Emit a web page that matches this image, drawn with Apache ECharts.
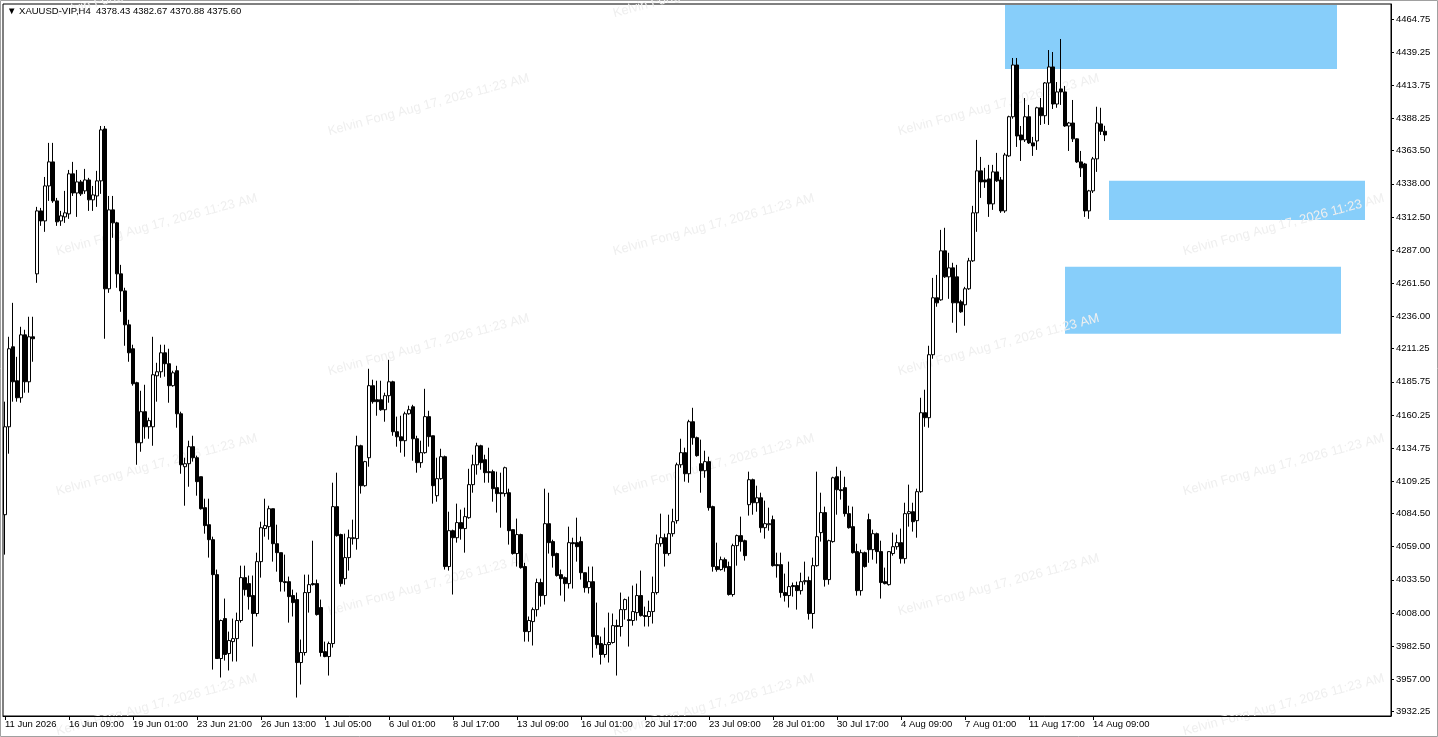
<!DOCTYPE html>
<html>
<head>
<meta charset="utf-8">
<script src="https://cdn.jsdelivr.net/npm/echarts@6.0.0/dist/echarts.min.js"></script>
<style>
html,body{margin:0;padding:0;background:#ffffff;}
#c{width:1438px;height:737px;}
</style>
</head>
<body>
<div id="c"></div>
<script>
// ---------------- data ----------------
const symbolName = 'XAUUSD-VIP,H4';
const watermarkText = 'Kelvin Fong Aug 17, 2026 11:23 AM';

// time-axis labels, one every 16 bars (H4)
const timeTickLabels = ['11 Jun 2026','16 Jun 09:00','19 Jun 01:00','23 Jun 21:00','26 Jun 13:00','1 Jul 05:00','6 Jul 01:00','8 Jul 17:00','13 Jul 09:00','16 Jul 01:00','20 Jul 17:00','23 Jul 09:00','28 Jul 01:00','30 Jul 17:00','4 Aug 09:00','7 Aug 01:00','11 Aug 17:00','14 Aug 09:00'];
const barsPerTimeLabel = 16;

// price-axis labels
const priceTickLabels = [4464.75,4439.25,4413.75,4388.25,4363.50,4338.00,4312.50,4287.00,4261.50,4236.00,4211.25,4185.75,4160.25,4134.75,4109.25,4084.50,4059.00,4033.50,4008.00,3982.50,3957.00,3932.25];
const priceMin = 3928.8;
const priceMax = 4476.3;

// candles: [open, close, low, high]
const candles = [
[4083.6,4151.2,4052.9,4170.5],[4151.2,4211.2,4130.5,4220.4],[4212.7,4185.8,4170.5,4246.5],[4186.6,4173.5,4170.5,4205.0],
[4173.5,4221.9,4169.7,4228.1],[4221.9,4185.8,4177.4,4225.8],[4185.8,4220.4,4177.4,4235.8],[4220.4,4218.9,4201.2,4235.8],
[4268.8,4317.2,4261.9,4320.3],[4317.2,4309.5,4305.7,4319.5],[4309.5,4336.4,4301.1,4343.3],[4336.4,4354.9,4324.9,4369.5],
[4354.9,4324.9,4323.4,4369.5],[4324.9,4308.8,4305.7,4327.2],[4309.5,4313.4,4305.7,4317.2],[4312.6,4315.7,4308.0,4332.6],
[4314.9,4345.7,4311.1,4348.7],[4345.7,4331.0,4328.7,4354.9],[4331.0,4339.5,4312.6,4348.7],[4339.5,4330.3,4328.7,4341.0],
[4332.6,4341.0,4330.3,4349.5],[4341.0,4325.7,4317.2,4342.6],[4325.7,4329.5,4317.2,4336.4],[4328.7,4340.3,4320.3,4348.0],
[4340.3,4379.5,4330.3,4382.5],[4380.2,4257.3,4218.9,4382.5],[4257.3,4318.0,4254.2,4328.7],[4318.0,4308.0,4296.5,4328.7],
[4308.0,4268.8,4258.1,4308.8],[4268.8,4255.7,4239.6,4275.7],[4255.7,4229.6,4213.5,4258.1],[4229.6,4208.1,4201.2,4233.5],
[4211.2,4184.3,4182.8,4214.3],[4185.1,4138.9,4122.0,4185.8],[4138.9,4162.8,4132.0,4178.9],[4162.8,4151.2,4142.0,4183.5],
[4151.2,4155.9,4142.0,4158.2],[4151.2,4191.2,4136.6,4220.4],[4190.4,4193.5,4170.5,4200.4],[4193.5,4208.1,4188.9,4214.3],
[4208.1,4199.7,4189.7,4214.3],[4199.7,4182.8,4169.7,4211.2],[4182.8,4192.7,4182.0,4194.3],[4194.3,4161.2,4150.5,4198.1],
[4161.2,4122.0,4115.1,4162.8],[4120.5,4122.8,4090.5,4127.4],[4122.8,4135.9,4105.1,4140.5],[4135.9,4127.4,4124.4,4144.3],
[4127.4,4109.0,4098.2,4129.0],[4112.8,4088.2,4087.5,4112.8],[4089.0,4075.2,4069.0,4095.9],[4075.9,4064.4,4050.6,4095.9],
[4064.4,4037.5,3964.5,4066.7],[4037.5,3973.0,3973.0,4041.4],[3973.0,4002.2,3958.4,4002.9],[4003.7,3976.1,3971.4,4019.1],
[3976.8,3986.8,3963.8,3993.7],[3986.0,3988.3,3970.7,4003.7],[3988.3,4002.2,3970.7,4008.3],[4002.2,4035.2,4000.6,4044.4],
[4035.2,4026.0,4021.4,4044.4],[4030.6,4020.6,4010.6,4036.8],[4021.4,4007.6,3982.2,4036.8],[4007.6,4047.5,4005.3,4054.4],
[4047.5,4073.6,4035.2,4078.2],[4072.9,4075.2,4066.7,4095.9],[4074.4,4088.2,4064.4,4090.5],[4088.2,4061.3,4047.5,4088.2],
[4061.3,4054.4,4039.8,4075.9],[4054.4,4032.1,4024.5,4054.4],[4032.1,4031.4,4024.5,4052.9],[4032.1,4020.6,4000.6,4036.0],
[4021.4,4016.0,4005.3,4026.0],[4018.3,3969.9,3943.0,4023.7],[3969.9,3977.6,3953.0,3987.6],[3977.6,4023.7,3975.3,4037.5],
[4023.7,4029.8,4008.3,4037.5],[4030.6,4029.8,4029.1,4063.6],[4030.6,4006.8,4006.0,4033.7],[4012.2,3977.6,3974.5,4018.3],
[3978.3,3974.5,3974.0,3986.0],[3974.5,3984.5,3959.9,3986.0],[3984.5,4089.8,3981.4,4108.2],[4089.8,4067.5,4066.7,4115.9],
[4068.3,4030.6,4028.3,4069.0],[4034.4,4050.6,4029.8,4069.0],[4050.6,4065.9,4040.6,4072.1],[4065.2,4065.9,4060.6,4079.8],
[4065.2,4136.6,4056.7,4144.3],[4136.6,4105.9,4099.8,4137.4],[4105.9,4124.4,4105.1,4125.0],[4127.4,4182.8,4120.5,4195.8],
[4182.8,4170.5,4169.0,4187.4],[4172.0,4170.5,4159.7,4186.6],[4172.0,4164.3,4163.5,4186.6],[4164.3,4175.1,4155.1,4177.4],
[4175.1,4185.8,4169.7,4202.7],[4185.8,4147.4,4144.3,4186.6],[4147.4,4143.5,4135.9,4159.0],[4143.5,4140.5,4131.3,4159.7],
[4140.5,4161.2,4128.2,4162.8],[4161.2,4164.3,4160.5,4167.4],[4166.6,4142.0,4125.1,4168.1],[4142.0,4123.6,4115.9,4144.3],
[4123.6,4131.3,4119.7,4140.5],[4131.3,4159.0,4130.5,4180.4],[4159.0,4143.6,4135.9,4163.5],[4144.3,4105.9,4092.1,4144.3],
[4098.2,4111.3,4093.6,4127.4],[4111.3,4128.2,4110.5,4134.3],[4128.2,4043.7,4041.4,4129.0],[4043.7,4071.3,4040.6,4085.9],
[4071.3,4065.9,4022.2,4072.1],[4065.9,4077.5,4062.1,4092.1],[4077.5,4072.9,4064.4,4087.5],[4072.9,4082.1,4054.4,4089.0],
[4081.3,4106.7,4080.5,4118.9],[4106.7,4122.0,4100.5,4129.7],[4122.0,4136.6,4114.4,4138.9],[4136.6,4123.6,4118.2,4137.4],
[4125.9,4115.9,4108.2,4129.7],[4116.7,4115.9,4108.2,4135.1],[4116.7,4103.6,4093.6,4118.2],[4104.4,4099.8,4085.2,4116.7],
[4100.5,4099.8,4073.6,4115.9],[4099.8,4119.7,4097.5,4120.5],[4100.5,4071.3,4060.6,4103.6],[4072.1,4053.7,4052.9,4072.1],
[4053.7,4068.3,4043.7,4080.6],[4068.3,4042.9,4042.1,4069.0],[4043.7,3993.7,3986.0,4046.6],[3993.7,4002.2,3986.0,4005.3],
[4001.4,4010.6,3983.0,4012.2],[4010.6,4031.4,4005.3,4034.4],[4031.4,4021.4,4012.9,4034.4],[4021.4,4076.7,4014.5,4103.6],
[4076.7,4062.1,4053.7,4100.5],[4062.9,4052.1,4042.9,4064.4],[4053.7,4036.8,4036.0,4054.4],[4037.5,4034.4,4021.4,4041.4],
[4035.2,4030.6,4016.8,4036.0],[4030.6,4062.1,4026.8,4074.4],[4062.1,4061.3,4026.8,4065.9],[4062.1,4059.0,4047.5,4081.3],
[4062.9,4039.0,4033.7,4066.7],[4039.0,4027.5,4023.7,4039.0],[4027.5,4032.1,4023.0,4043.7],[4032.1,3989.9,3973.7,4043.7],
[3990.6,3983.7,3980.7,4016.0],[3984.5,3976.1,3968.4,3989.9],[3976.1,3983.7,3973.7,3996.8],[3983.7,3985.3,3969.9,4008.3],
[3985.3,3998.3,3984.5,4007.6],[3998.3,3997.6,3959.9,4002.9],[3997.6,4010.6,3989.9,4023.7],[4010.6,4018.3,4002.9,4019.1],
[4002.9,4002.2,3982.2,4020.6],[4002.2,4009.1,3998.3,4029.1],[4008.3,4021.4,4002.2,4030.6],[4021.4,4006.0,4005.3,4040.6],
[4006.0,4005.3,3997.6,4012.9],[4005.3,4009.1,3997.6,4017.5],[4009.1,4023.7,3999.9,4036.0],[4023.7,4061.3,4022.2,4068.3],
[4061.3,4065.9,4059.0,4084.4],[4065.9,4053.7,4043.7,4069.0],[4053.7,4069.0,4052.1,4083.6],[4069.0,4078.2,4066.7,4088.2],
[4079.0,4122.0,4076.7,4123.6],[4122.0,4131.3,4119.7,4142.0],[4131.3,4115.1,4109.0,4135.1],[4115.1,4155.1,4108.2,4156.6],
[4155.1,4142.8,4137.4,4165.8],[4142.8,4129.0,4128.2,4143.6],[4122.8,4117.4,4100.5,4141.3],[4117.4,4124.4,4112.0,4132.8],
[4124.4,4089.0,4086.7,4128.2],[4089.8,4043.7,4039.8,4090.5],[4043.7,4041.4,4039.8,4062.1],[4041.4,4049.0,4040.6,4051.4],
[4049.0,4042.9,4039.8,4050.6],[4043.7,4022.2,4021.4,4047.5],[4022.2,4059.8,4020.6,4061.3],[4059.8,4067.5,4044.4,4068.3],
[4067.5,4062.9,4055.2,4082.1],[4063.6,4052.1,4048.3,4064.4],[4091.3,4110.5,4082.9,4116.7],[4110.5,4092.8,4083.6,4111.3],
[4092.8,4096.6,4085.9,4105.9],[4096.6,4073.6,4069.8,4100.5],[4073.6,4076.7,4065.2,4094.4],[4075.9,4076.7,4071.3,4089.0],
[4079.8,4044.4,4043.7,4082.9],[4045.2,4044.4,4035.2,4054.4],[4045.2,4023.7,4019.8,4054.4],[4023.7,4021.4,4016.8,4038.3],
[4021.4,4028.3,4012.2,4047.5],[4029.1,4028.3,4020.6,4031.4],[4029.1,4025.2,4010.6,4032.1],[4025.2,4032.1,4022.2,4039.0],
[4032.1,4032.9,4029.8,4047.5],[4032.9,4007.6,4002.9,4036.0],[4007.6,4044.4,3996.0,4050.6],[4044.4,4066.7,4043.7,4116.7],
[4069.8,4085.2,4062.9,4100.5],[4085.2,4033.7,4028.3,4089.8],[4033.7,4063.6,4029.8,4064.4],[4062.9,4112.0,4062.1,4112.8],
[4112.8,4102.8,4083.6,4120.5],[4102.8,4102.1,4095.2,4117.4],[4104.4,4084.4,4082.1,4112.8],[4084.4,4073.6,4072.9,4090.5],
[4074.4,4054.4,4053.7,4089.8],[4055.2,4025.2,4021.4,4061.3],[4025.2,4054.4,4021.4,4056.7],[4054.4,4043.7,4042.9,4055.2],
[4079.8,4056.7,4046.6,4084.4],[4056.7,4069.0,4049.0,4072.1],[4069.0,4055.2,4046.0,4069.8],[4055.2,4031.4,4019.1,4063.6],
[4032.1,4030.6,4030.0,4042.9],[4029.8,4055.2,4029.1,4055.5],[4053.7,4059.0,4052.1,4069.8],[4059.0,4062.1,4056.7,4068.3],
[4062.1,4049.8,4046.0,4072.9],[4049.8,4084.4,4046.0,4092.8],[4084.4,4085.9,4074.4,4106.7],[4085.9,4078.2,4070.6,4092.8],
[4079.0,4101.3,4065.9,4103.6],[4101.3,4162.0,4100.5,4173.5],[4162.0,4158.2,4151.2,4179.7],[4158.2,4206.6,4150.5,4213.5],
[4206.6,4250.4,4203.5,4265.7],[4250.4,4246.5,4243.5,4268.0],[4248.8,4286.5,4248.1,4302.6],[4286.5,4266.5,4265.7,4304.2],
[4266.5,4273.4,4249.6,4285.0],[4273.4,4246.5,4231.2,4277.3],[4266.5,4246.5,4223.5,4275.7],[4247.3,4239.6,4238.8,4248.8],
[4245.0,4257.3,4228.9,4258.8],[4257.3,4278.8,4256.5,4281.1],[4278.8,4315.7,4278.0,4321.1],[4315.7,4348.0,4301.1,4371.8],
[4348.0,4339.5,4327.2,4358.7],[4341.0,4339.5,4334.9,4350.3],[4341.8,4322.6,4312.6,4352.6],[4322.6,4347.2,4318.0,4352.6],
[4347.2,4340.3,4339.5,4361.8],[4341.0,4317.2,4315.7,4343.3],[4317.2,4360.2,4315.7,4361.8],[4359.5,4389.6,4358.7,4390.4],
[4389.6,4429.4,4388.1,4434.8],[4429.4,4374.8,4366.4,4434.8],[4375.6,4371.8,4355.6,4382.5],[4371.8,4389.6,4370.2,4404.0],
[4389.6,4369.5,4368.7,4398.7],[4369.5,4367.2,4359.5,4374.1],[4371.0,4396.5,4364.1,4397.3],[4396.5,4390.4,4383.3,4404.0],
[4390.4,4415.6,4384.1,4416.3],[4415.6,4427.9,4383.3,4440.9],[4427.9,4399.4,4395.6,4439.4],[4399.4,4408.7,4396.5,4416.3],
[4411.0,4408.7,4398.7,4449.4],[4408.7,4382.5,4381.8,4413.3],[4382.5,4384.8,4363.3,4385.6],[4384.8,4372.6,4370.2,4402.5],
[4372.6,4354.9,4354.1,4373.0],[4354.9,4350.3,4343.3,4363.3],[4353.3,4317.2,4312.6,4354.1],[4317.2,4332.6,4311.1,4333.4],
[4332.6,4357.2,4331.0,4358.7],[4357.2,4384.8,4347.2,4397.3],[4384.1,4378.4,4375.6,4396.5],[4378.43,4375.60,4370.88,4382.67]
];

// rectangle zones: bar index range and price range
const zoneStartBar = [250, 276, 265];
const zoneEndBar   = [333, 340, 334];
const zoneTop      = [4475.5, 4340.3, 4274.2];
const zoneBottom   = [4426.3, 4310.3, 4222.7];

// ---------------- chart ----------------
const totalSlots = 347;                    // bars + empty space on the right
const categories = Array.from({length: totalSlots}, (_, i) => String(i));
const last = candles[candles.length - 1];
const fmt = v => v.toFixed(2);
const uiFont = '"Liberation Sans", Arial, sans-serif';
const isTimeTick = (i) => i % barsPerTimeLabel === 0 && (i / barsPerTimeLabel) < timeTickLabels.length;

const wmAnchors = [
  [58,20],[615,20],
  [330,138],[900,138],
  [58,258],[615,258],[1185,258],
  [330,378],[900,378],
  [58,498],[615,498],[1185,498],
  [330,618],[900,618],
  [58,738],[615,738],[1185,738]
];
const watermarks = wmAnchors.map(p => ({
  type: 'text', x: p[0], y: p[1], rotation: 15 * Math.PI / 180, z: 1.5, silent: true,
  style: { text: watermarkText, fill: '#efefef', font: '13px "Liberation Sans", Arial, sans-serif', align: 'left', verticalAlign: 'bottom' }
}));
watermarks.push({
  type: 'rect', shape: { x: 0.5, y: 0.5, width: 1437, height: 736 }, z: 0, silent: true,
  style: { fill: 'none', stroke: '#a0a0a0', lineWidth: 1 }
});

const zoneAreas = zoneStartBar.map((s, k) => ([
  { xAxis: s, yAxis: zoneTop[k] },
  { xAxis: zoneEndBar[k], yAxis: zoneBottom[k] }
]));

const chart = echarts.init(document.getElementById('c'), null, { renderer: 'canvas' });
chart.setOption({
  animation: false,
  backgroundColor: '#ffffff',
  title: {
    text: '\u25BC ' + symbolName + '  ' + [last[0], last[3], last[2], last[1]].map(fmt).join(' '),
    left: 7, top: 6, padding: 0, z: 4,
    textStyle: { fontSize: 9.5, fontWeight: 'normal', color: '#000', fontFamily: uiFont }
  },
  grid: { left: 3, top: 4, width: 1388, height: 712, show: true, borderColor: '#000', borderWidth: 1, backgroundColor: 'transparent' },
  xAxis: {
    type: 'category', data: categories, boundaryGap: true, z: 4,
    axisLine: { show: true, lineStyle: { color: '#000', width: 1 } },
    axisTick: { show: true, alignWithLabel: true, length: 4, interval: isTimeTick, lineStyle: { color: '#000' } },
    axisLabel: {
      show: true, interval: isTimeTick, align: 'left', margin: 3, color: '#000', fontSize: 9.5, fontFamily: uiFont,
      formatter: (v) => timeTickLabels[Number(v) / barsPerTimeLabel] || ''
    },
    splitLine: { show: false }
  },
  yAxis: {
    type: 'value', position: 'right', min: priceMin, max: priceMax, z: 4,
    axisLine: { show: true, lineStyle: { color: '#000', width: 1 } },
    axisTick: { show: true, length: 3, customValues: priceTickLabels, lineStyle: { color: '#000' } },
    axisLabel: { show: true, customValues: priceTickLabels, formatter: fmt, margin: 5, color: '#000', fontSize: 9.5, fontFamily: uiFont },
    splitLine: { show: false }
  },
  graphic: { elements: watermarks },
  series: [{
    type: 'candlestick',
    z: 3,
    data: candles,
    barWidth: 3,
    itemStyle: { color: '#ffffff', color0: '#000000', borderColor: '#000000', borderColor0: '#000000', borderWidth: 1 },
    markArea: {
      silent: true,
      itemStyle: { color: '#87CEFA', borderWidth: 0 },
      data: zoneAreas
    },
    markLine: {
      silent: true, symbol: ['none', 'none'], animation: false,
      lineStyle: { opacity: 0 },
      data: [{ yAxis: last[1] }],
      label: { show: true, position: 'end', formatter: fmt(last[1]), color: '#fff', backgroundColor: '#000', padding: [2, 3, 1, 3], fontSize: 9.5, fontFamily: uiFont, distance: 1 }
    }
  }]
});
</script>
</body>
</html>
